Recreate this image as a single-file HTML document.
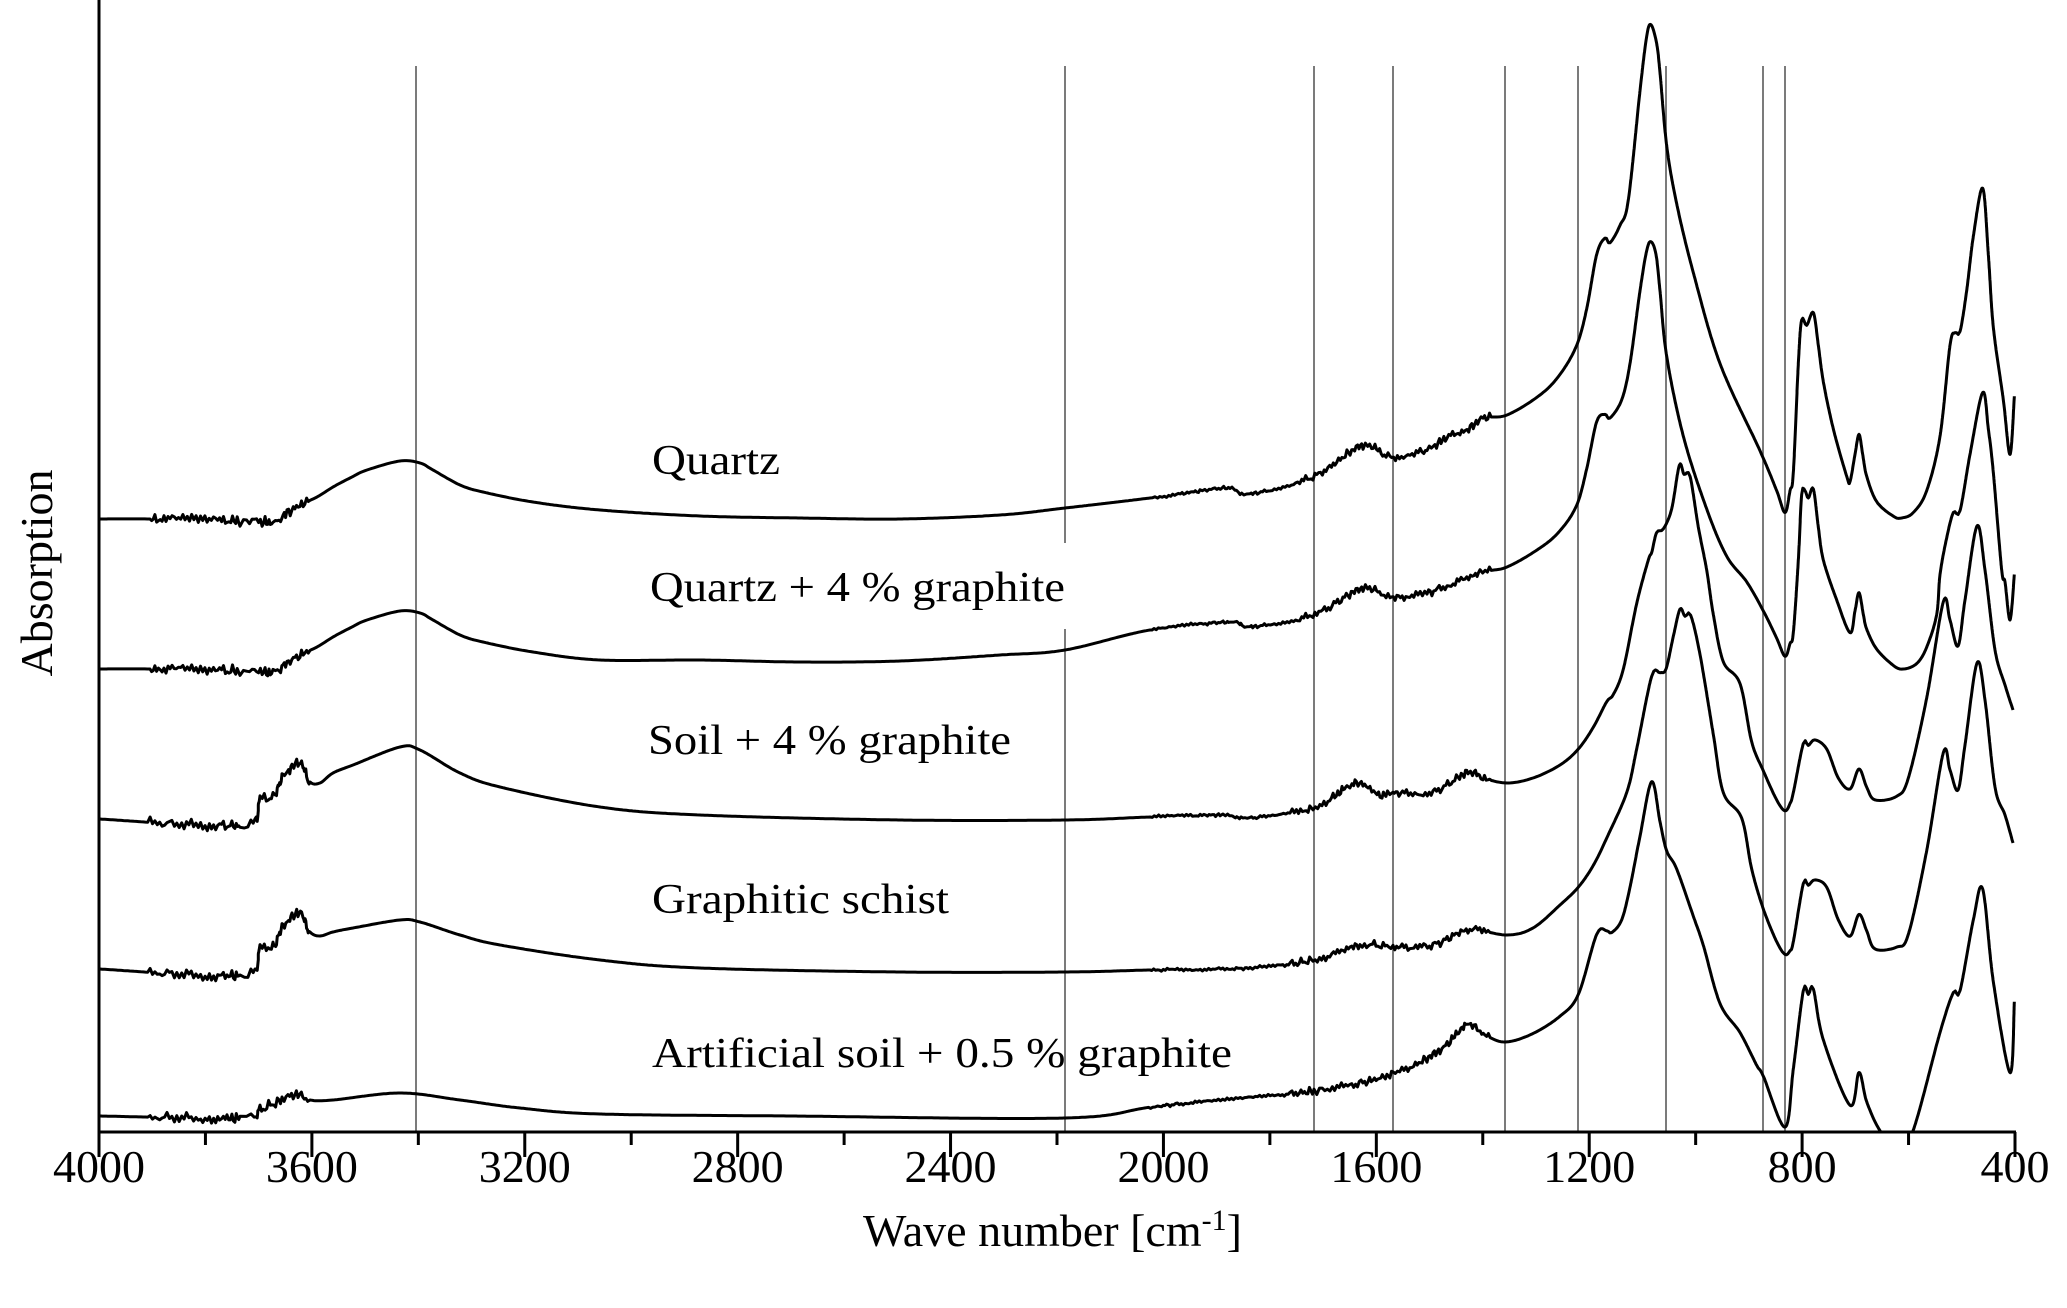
<!DOCTYPE html>
<html><head><meta charset="utf-8">
<style>
html,body{margin:0;padding:0;background:#fff;}
svg{display:block;}
text{font-family:"Liberation Serif","Times New Roman",serif;fill:#000;}
</style></head>
<body>
<svg id="s" width="2067" height="1308" viewBox="0 0 2067 1308" xmlns="http://www.w3.org/2000/svg">
<defs><clipPath id="cp"><rect x="99" y="0" width="1930" height="1132"/></clipPath></defs>
<g id="vl" stroke="#5a5a5a" stroke-width="1.6"></g>
<g id="curves" clip-path="url(#cp)" fill="none" stroke="#000" stroke-width="3" stroke-linejoin="round"></g>
<line x1="99" y1="0" x2="99" y2="1133" stroke="#000" stroke-width="3"/>
<line x1="98" y1="1132" x2="2016" y2="1132" stroke="#000" stroke-width="3"/>
<g id="ticks" stroke="#000" stroke-width="3"></g>
<g id="tl" font-size="46" text-anchor="middle"></g>
<g font-size="42">
<text x="652" y="474" textLength="128" lengthAdjust="spacingAndGlyphs">Quartz</text>
<text x="650" y="601" textLength="415" lengthAdjust="spacingAndGlyphs">Quartz + 4 % graphite</text>
<text x="648" y="754" textLength="363" lengthAdjust="spacingAndGlyphs">Soil + 4 % graphite</text>
<text x="652" y="913" textLength="297" lengthAdjust="spacingAndGlyphs">Graphitic schist</text>
<text x="652" y="1067" textLength="580" lengthAdjust="spacingAndGlyphs">Artificial soil + 0.5 % graphite</text>
</g>
<text x="863" y="1246" font-size="46">Wave number [cm<tspan dy="-16" font-size="30">-1</tspan><tspan dy="16">]</tspan></text>
<text transform="translate(52,573) rotate(-90)" font-size="46" text-anchor="middle">Absorption</text>
</svg>
<script>
var NS="http://www.w3.org/2000/svg";
function X(w){return 99+(4000-w)*0.53222;}
var vl=document.getElementById("vl");
function L(x,y1,y2){var l=document.createElementNS(NS,"line");l.setAttribute("x1",x);l.setAttribute("x2",x);l.setAttribute("y1",y1);l.setAttribute("y2",y2);vl.appendChild(l);}
L(416,66,1132);L(1065,66,543);L(1065,629,1132);
[1314,1393,1505,1578,1666,1763,1785].forEach(function(x){L(x,66,1132);});
var tk=document.getElementById("ticks"),tl=document.getElementById("tl");
for(var w=4000;w>=400;w-=200){var x=X(w);var maj=(w%400==0);
var l=document.createElementNS(NS,"line");l.setAttribute("x1",x);l.setAttribute("x2",x);l.setAttribute("y1",1132);l.setAttribute("y2",maj?1157:1145);tk.appendChild(l);
if(maj){var t=document.createElementNS(NS,"text");t.setAttribute("x",x);t.setAttribute("y",1182);t.textContent=w;tl.appendChild(t);}}
function A(a){return [1560+a[0]/3,a[1]*0.3635];}
function B(a){return [1560+a[0]/3,560+a[1]*0.3635];}
function mapA(l){return l.map(A);} function mapB(l){return l.map(B);}
var S1=[[99,519],[150,519],[240,521],[273,522],[287,513],[300,505],[317,497],[333,487],[350,478],[367,470],[400,461],[420,463],[433,470],[460,485],[483,492],[533,502],[600,510],[700,516],[800,518],[900,519],[1000,515],[1065,508],[1150,498],[1200,491],[1230,488],[1250,494],[1313,477],[1363,445],[1390,457],[1427,450],[1447,437],[1467,430],[1483,418],[1507,415],[1540,395]]
.concat(mapA([[0,1030],[50,950],[80,850],[110,700],[135,655],[150,668],[180,620],[205,550],[240,250],[260,100],[273,68],[290,120],[300,200],[320,400],[350,560],[400,750],[480,1000],[600,1240],[650,1350],[675,1410],[690,1350],[700,1300],[715,1000],[725,880],[740,895],[760,860],[775,950],[790,1050],[820,1180],[860,1310],[870,1325],[885,1250],[897,1195],[908,1250],[920,1310],[950,1380],[1000,1420],[1025,1425],[1060,1410],[1100,1350],[1140,1200],[1170,950],[1185,915],[1200,912],[1220,800],[1240,650],[1268,518],[1285,700],[1300,900],[1330,1100],[1350,1250],[1363,1090]]));
var S2=S1.slice(0,17).map(function(p){return [p[0],p[1]+150];}).concat([[700,660],[800,662],[900,661],[1000,655],[1065,650],[1150,630],[1230,622],[1250,627],[1313,615],[1363,588],[1390,597],[1427,593],[1480,573],[1507,567],[1540,548]])
.concat(mapA([[0,1460],[50,1390],[80,1290],[110,1160],[135,1140],[150,1150],[185,1100],[210,1000],[240,800],[260,690],[273,665],[288,700],[300,800],[320,980],[370,1200],[440,1400],[500,1530]]))
.concat(mapB([[560,60],[610,140],[650,215],[675,265],[690,230],[700,200],[715,0]]))
.concat(mapA([[725,1360],[735,1350],[745,1370],[760,1345],[775,1450]]))
.concat(mapB([[790,0],[830,110],[870,200],[885,140],[897,90],[910,150],[920,190],[950,245],[1000,290],[1030,300],[1070,285],[1100,240],[1130,150],[1140,40]]))
.concat(mapA([[1160,1480],[1180,1410],[1200,1405],[1230,1250],[1268,1080],[1285,1180],[1300,1300],[1325,1568]]))
.concat(mapB([[1335,60],[1350,165],[1363,40]]));
var S3=[[99,819],[240,825],[260,800],[273,797],[282,778],[292,767],[298,762],[303,767],[310,782],[320,783],[333,773],[353,765],[400,747],[420,750],[460,773],[500,787],[600,807],[700,815],[900,820],[1065,820],[1150,817],[1220,815],[1250,818],[1313,808],[1347,787],[1360,783],[1380,795],[1393,793],[1433,792],[1468,772],[1483,778],[1507,783],[1533,778],[1560,765]]
.concat(mapB([[55,520],[100,460],[140,390],[160,370],[190,300],[230,120],[265,0]]))
.concat(mapA([[275,1520],[290,1465],[310,1455],[335,1400],[358,1280],[372,1305],[390,1310],[415,1450],[440,1568]]))
.concat(mapB([[460,150],[490,280],[540,340],[575,500],[610,580],[650,660],[675,690],[690,670],[700,640],[730,505],[745,510],[765,495],[800,520],[835,600],[870,630],[897,575],[920,625],[945,660],[1010,650],[1045,600],[1100,380],[1150,115]]))
.concat([[1950,620],[1958,646],[1965,600],[1977,526],[1985,570],[1995,650],[2005,685],[2013,710]]);
var S4=[[99,969],[240,975],[260,950],[273,947],[282,928],[292,917],[298,912],[303,917],[310,932],[320,936],[333,932],[353,928],[400,920],[420,922],[460,935],[500,945],[600,960],[700,968],[900,972],[1065,972],[1150,970],[1250,968],[1313,960],[1360,945],[1393,947],[1433,945],[1468,930],[1507,935],[1533,928],[1560,905]]
.concat(mapB([[55,900],[100,840],[140,765],[200,640],[230,520],[275,320],[300,310],[318,300],[340,210],[360,135],[375,155],[392,152],[420,260],[460,480],[490,640],[545,710],[575,850],[610,960],[650,1050],[675,1085],[690,1075],[700,1050],[730,890],[745,895],[765,880],[800,900],[835,990],[870,1035],[897,975],[920,1020],[945,1070],[1010,1065],[1045,1030],[1100,800],[1150,530]]))
.concat([[1950,770],[1958,790],[1965,745],[1977,663],[1985,700],[1995,787],[2005,815],[2013,843]]);
var S5=[[99,1116],[240,1118],[260,1110],[282,1100],[298,1094],[310,1100],[333,1100],[400,1093],[460,1100],[520,1108],[600,1114],[791,1116],[1065,1118],[1160,1106],[1314,1091],[1393,1074],[1440,1050],[1467,1025],[1485,1035],[1505,1042],[1532,1034]]
.concat(mapB([[0,1255],[55,1195],[110,1030],[140,1020],[155,1025],[185,990],[210,900],[240,760],[275,610],[300,720],[320,800],[350,850],[400,980],[430,1060],[480,1220],[540,1300],[590,1390],[610,1420],[675,1560],[700,1400],[730,1185],[745,1195],[760,1180],[790,1320],[870,1500],[897,1410],[920,1490],[960,1570]]))
.concat([[1898,1150]])
.concat(mapB([[1060,1568],[1140,1300],[1180,1190],[1200,1185],[1240,990],[1268,905],[1300,1160],[1350,1410],[1363,1215]]));
function noise(x,k){var a=0;
if(x>150&&x<310)a=4;else if(x>1290&&x<1490)a=3;else if(x>1150&&x<1290)a=1.2;
if(!a)return 0;return a*(Math.sin(x*1.37+k)*0.7+Math.sin(x*2.91+2*k)*0.5+Math.sin(x*0.61+k*3)*0.3);}
function path(P,k){var d="";var n=P.length;
for(var i=0;i<n-1;i++){var p0=P[Math.max(0,i-1)],p1=P[i],p2=P[i+1],p3=P[Math.min(n-1,i+2)];
var seg=Math.max(2,Math.ceil(Math.hypot(p2[0]-p1[0],p2[1]-p1[1])/2));
for(var j=(i==0?0:1);j<=seg;j++){var t=j/seg,t2=t*t,t3=t2*t;
var x=0.5*((2*p1[0])+(-p0[0]+p2[0])*t+(2*p0[0]-5*p1[0]+4*p2[0]-p3[0])*t2+(-p0[0]+3*p1[0]-3*p2[0]+p3[0])*t3);
var y=0.5*((2*p1[1])+(-p0[1]+p2[1])*t+(2*p0[1]-5*p1[1]+4*p2[1]-p3[1])*t2+(-p0[1]+3*p1[1]-3*p2[1]+p3[1])*t3);
y+=noise(x,k);d+=(d?"L":"M")+x.toFixed(1)+" "+y.toFixed(1);}}return d;}
var g=document.getElementById("curves");
[S1,S2,S3,S4,S5].forEach(function(S,k){var p=document.createElementNS(NS,"path");p.setAttribute("d",path(S,k*0.3));g.appendChild(p);});
</script>
</body></html>
